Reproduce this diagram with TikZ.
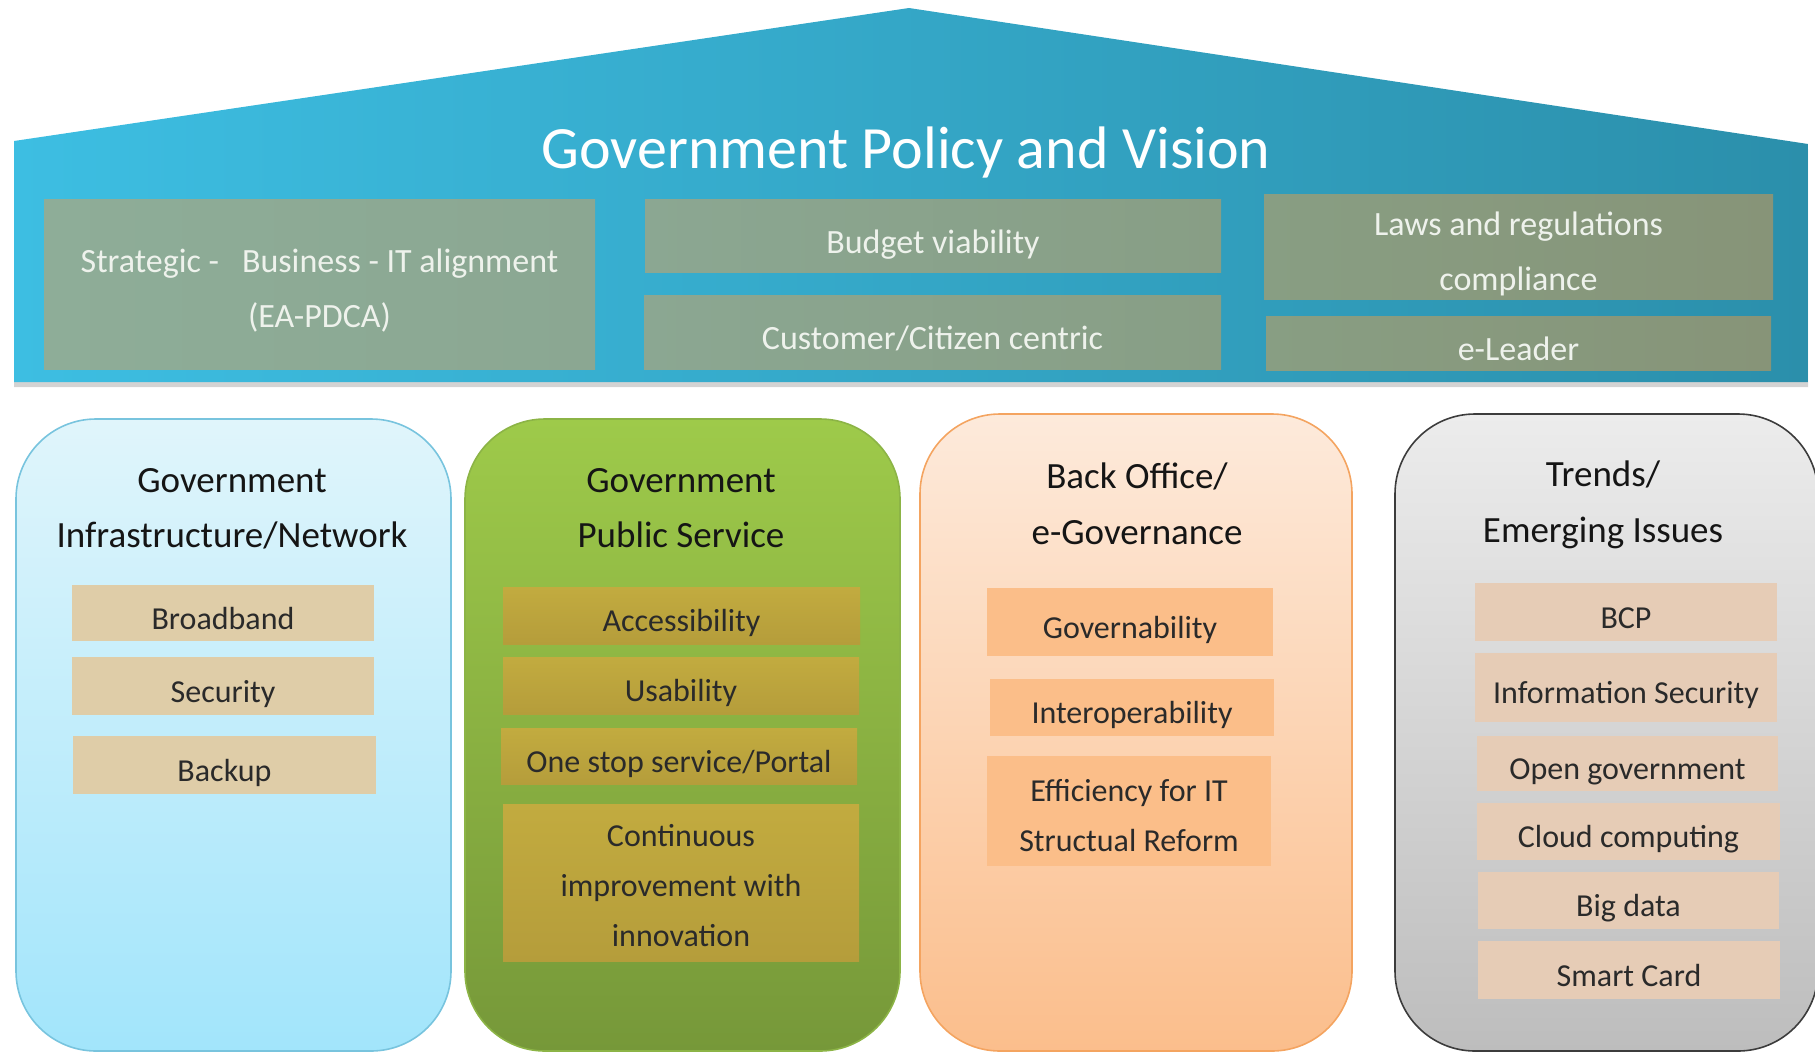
\documentclass[tikz,border=0pt]{standalone}
\usepackage{fontspec}
\setmainfont{Carlito}
\usetikzlibrary{shadows}
\definecolor{tboxtxt}{HTML}{EEF2EC}
\definecolor{itemtxt}{HTML}{2A2A2A}
\definecolor{headtxt}{HTML}{151515}
\definecolor{tanc}{HTML}{DFCDA8}
\definecolor{goldA}{HTML}{C2AB3F}
\definecolor{goldB}{HTML}{B59D3B}
\definecolor{orgc}{HTML}{FBBE89}
\definecolor{pinkc}{HTML}{E6CCB6}
\tikzset{
  tbox/.style={rectangle, inner sep=0pt, text=tboxtxt, align=center,
    font=\fontsize{34}{55}\selectfont, text height=36pt, text depth=1pt},
  ttext/.style={inner sep=0pt, text=tboxtxt, align=center, anchor=base,
    font=\fontsize{34}{55}\selectfont},
  panelbox/.style={rectangle, rounded corners=80pt, inner sep=0pt, line width=1.6pt},
  heading/.style={inner sep=0pt, text=headtxt, align=center, anchor=base,
    font=\fontsize{37}{55.5}\selectfont},
  itembox/.style={rectangle, inner sep=0pt, text=itemtxt, align=center,
    font=\fontsize{32}{50}\selectfont, text height=34pt, text depth=2pt},
  itext/.style={inner sep=0pt, text=itemtxt, align=center, anchor=base,
    font=\fontsize{32}{50}\selectfont},
  tanitem/.style={itembox, fill=tanc},
  golditem/.style={itembox, top color=goldA, bottom color=goldB},
  orgitem/.style={itembox, fill=orgc},
  pinkitem/.style={itembox, fill=pinkc},
}
\begin{document}
\begin{tikzpicture}[x=1pt,y=-1pt]
\useasboundingbox (0,0) rectangle (1815,1053);
\clip (0,0) rectangle (1815,1053);
% house
\path[left color={rgb,255:red,61;green,190;blue,226}, middle color={rgb,255:red,55;green,174;blue,212}, right color={rgb,255:red,43;green,143;blue,171},
  drop shadow={opacity=0.35, shadow xshift=0pt, shadow yshift=-5pt}]
  (14,141) -- (909,8) -- (1808,144) -- (1808,382) -- (14,382) -- cycle;
\node[inner sep=0pt, text=white, font=\fontsize{60}{72}\selectfont] (title) at (906,152) {Government Policy and Vision};
% top boxes
\node[tbox, left color={rgb,255:red,142;green,173;blue,152}, right color={rgb,255:red,139;green,167;blue,146},
  minimum width=551pt, minimum height=170pt] (strat) at (319.5,284) {};
\node[ttext] (stratT) at (319.5,327.5) {Strategic -\ \ \ Business - IT alignment\\(EA-PDCA)};
\node[tbox, left color={rgb,255:red,139;green,167;blue,146}, right color={rgb,255:red,136;green,158;blue,133},
  minimum width=576pt, minimum height=73pt] (budget) at (933,235.5) {Budget viability};
\node[tbox, left color={rgb,255:red,139;green,167;blue,146}, right color={rgb,255:red,136;green,158;blue,133},
  minimum width=577pt, minimum height=74pt] (cust) at (932.5,332) {Customer/Citizen centric};
\node[tbox, left color={rgb,255:red,136;green,158;blue,131}, right color={rgb,255:red,135;green,148;blue,120},
  minimum width=509pt, minimum height=105pt] (laws) at (1518.5,246.5) {};
\node[ttext] (lawsT) at (1518.5,290) {Laws and regulations\\compliance};
\node[tbox, left color={rgb,255:red,136;green,158;blue,131}, right color={rgb,255:red,135;green,148;blue,120},
  minimum width=505pt, minimum height=54pt] (elead) at (1518.5,343) {e-Leader};
% panels
\node[panelbox, draw={rgb,255:red,120;green,196;blue,222}, top color={rgb,255:red,224;green,245;blue,251}, bottom color={rgb,255:red,162;green,229;blue,251},
  minimum width=435pt, minimum height=632pt] (p1) at (233.5,735) {};
\node[panelbox, draw={rgb,255:red,140;green,180;blue,70}, top color={rgb,255:red,158;green,202;blue,74}, bottom color={rgb,255:red,118;green,152;blue,57},
  minimum width=435pt, minimum height=632pt] (p2) at (682.5,735) {};
\node[panelbox, draw={rgb,255:red,244;green,164;blue,96}, top color={rgb,255:red,253;green,234;blue,219}, bottom color={rgb,255:red,251;green,190;blue,140},
  minimum width=432pt, minimum height=637pt] (p3) at (1136,732.5) {};
\node[panelbox, draw={rgb,255:red,60;green,60;blue,60}, top color={rgb,255:red,236;green,236;blue,236}, bottom color={rgb,255:red,189;green,189;blue,189},
  minimum width=423pt, minimum height=637pt] (p4) at (1606.5,732.5) {};
% headings
\node[heading] (h1) at (232,547.5) {Government\\Infrastructure/Network};
\node[heading] (h2) at (681,547.5) {Government\\Public Service};
\node[heading] (h3) at (1137,544) {Back Office/\\e-Governance};
\node[heading] (h4) at (1603,542) {Trends/\\Emerging Issues};
% panel 1 items
\node[tanitem, minimum width=302pt, minimum height=56pt] (i11) at (223,613) {Broadband};
\node[tanitem, minimum width=302pt, minimum height=58pt] (i12) at (223,686) {Security};
\node[tanitem, minimum width=303pt, minimum height=58pt] (i13) at (224.5,765) {Backup};
% panel 2 items
\node[golditem, minimum width=357pt, minimum height=57pt] (i21) at (681.5,615.5) {Accessibility};
\node[golditem, minimum width=356pt, minimum height=57pt] (i22) at (681,685.5) {Usability};
\node[golditem, minimum width=356pt, minimum height=56pt] (i23) at (679,756) {One stop service/Portal};
\node[golditem, minimum width=356pt, minimum height=157pt] (i24) at (681,882.5) {};
\node[itext] (i24T) at (681,946) {Continuous\\improvement with\\innovation};
% panel 3 items
\node[orgitem, minimum width=286pt, minimum height=68pt] (i31) at (1130,622) {Governability};
\node[orgitem, minimum width=284pt, minimum height=57pt] (i32) at (1132,707.5) {Interoperability};
\node[orgitem, minimum width=284pt, minimum height=110pt] (i33) at (1129,811) {};
\node[itext] (i33T) at (1129,851) {Efficiency for IT\\Structual Reform};
% panel 4 items
\node[pinkitem, minimum width=302pt, minimum height=58pt] (i41) at (1626,612) {BCP};
\node[pinkitem, minimum width=302pt, minimum height=69pt] (i42) at (1626,687.5) {Information Security};
\node[pinkitem, minimum width=301pt, minimum height=55pt] (i43) at (1627.5,763.5) {Open government};
\node[pinkitem, minimum width=303pt, minimum height=57pt] (i44) at (1628.5,831.5) {Cloud computing};
\node[pinkitem, minimum width=301pt, minimum height=57pt] (i45) at (1628.5,900.5) {Big data};
\node[pinkitem, minimum width=302pt, minimum height=58pt] (i46) at (1629,970) {Smart Card};
\end{tikzpicture}
\end{document}
